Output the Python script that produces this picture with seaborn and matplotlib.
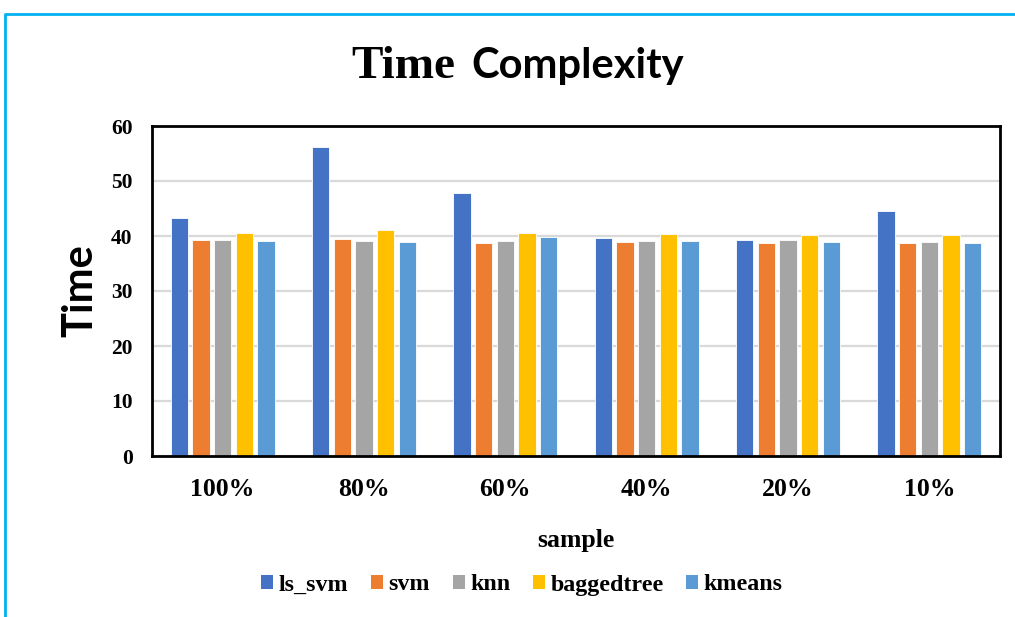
import matplotlib
matplotlib.use("Agg")
import matplotlib.pyplot as plt
from matplotlib.lines import Line2D
from matplotlib.patches import Patch
import seaborn as sns
import pandas as pd

# Sample sizes on the x axis
samples = ["100%", "80%", "60%", "40%", "20%", "10%"]
models = ["ls_svm", "svm", "knn", "baggedtree", "kmeans"]

# Running time per model and sample size
ls_svm = [43.2, 56.2, 47.8, 39.6, 39.2, 44.6]
svm = [39.2, 39.5, 38.7, 38.9, 38.8, 38.8]
knn = [39.2, 39.1, 39.1, 39.1, 39.3, 38.9]
baggedtree = [40.5, 41.1, 40.5, 40.4, 40.1, 40.2]
kmeans = [39.1, 38.9, 39.8, 39.1, 38.9, 38.7]

colors = ["#4472C4", "#ED7D31", "#A5A5A5", "#FFC000", "#5B9BD5"]

series = {"ls_svm": ls_svm, "svm": svm, "knn": knn,
          "baggedtree": baggedtree, "kmeans": kmeans}
df = pd.DataFrame(
    [(s, m, series[m][i]) for i, s in enumerate(samples) for m in models],
    columns=["sample", "model", "time"],
)

sns.set_theme(style="white")
serif = ["Liberation Serif", "DejaVu Serif"]
sans = ["Lato", "DejaVu Sans"]
plt.rcParams["font.family"] = serif
for key in ["text.color", "axes.labelcolor", "xtick.color", "ytick.color"]:
    plt.rcParams[key] = "black"

fig = plt.figure(figsize=(10.15, 6.17), dpi=100)
ax = fig.add_axes([152 / 1015, 1 - 456 / 617, 848 / 1015, 330 / 617])

sns.barplot(data=df, x="sample", y="time", hue="model", order=samples,
            hue_order=models, palette=colors, width=0.768, gap=0.2,
            edgecolor="white", linewidth=0.6, saturation=1, ax=ax,
            legend=False)

ax.set_ylim(0, 60)
ax.set_yticks(range(0, 61, 10))
ax.grid(axis="y", color="#d9d9d9", linewidth=1.6)
ax.set_axisbelow(True)
for sp in ax.spines.values():
    sp.set_visible(True)
    sp.set_color("black")
    sp.set_linewidth(2)
ax.tick_params(axis="both", length=0)
ax.tick_params(axis="y", pad=14)
ax.tick_params(axis="x", pad=16)
for lab in ax.get_yticklabels():
    lab.set_fontfamily(serif)
    lab.set_fontweight("bold")
    lab.set_fontsize(15.5)
for lab in ax.get_xticklabels():
    lab.set_fontfamily(serif)
    lab.set_fontweight("bold")
    lab.set_fontsize(18.5)

ax.set_xlabel("sample", fontsize=18.5, fontweight="bold", family=serif,
              labelpad=20)
ax.set_ylabel("Time", fontsize=30, fontweight="bold", family=sans,
              labelpad=8)

# Title in two typefaces
fig.text(455 / 1015, 1 - 78 / 617, "Time", ha="right", va="baseline",
         fontsize=34, fontweight="bold", family=serif)
fig.text(471 / 1015, 1 - 78 / 617, "Complexity", ha="left", va="baseline",
         fontsize=30, fontweight="bold", family=sans)

handles = [Patch(facecolor=c, edgecolor="none") for c in colors]
fig.legend(handles, models, loc="center", ncol=5,
           bbox_to_anchor=(522 / 1015, 1 - 585 / 617), frameon=False,
           prop={"family": serif, "weight": "bold", "size": 17.3},
           handlelength=0.5, handleheight=0.5, handletextpad=0.22,
           columnspacing=0.95)

# Chart-area border
fig.add_artist(Line2D([5 / 1015, 5 / 1015, 1.0],
                      [0.0, 1 - 14 / 617, 1 - 14 / 617],
                      color="#00B0F0", linewidth=2,
                      transform=fig.transFigure))

fig.savefig("out.png", dpi=100)
